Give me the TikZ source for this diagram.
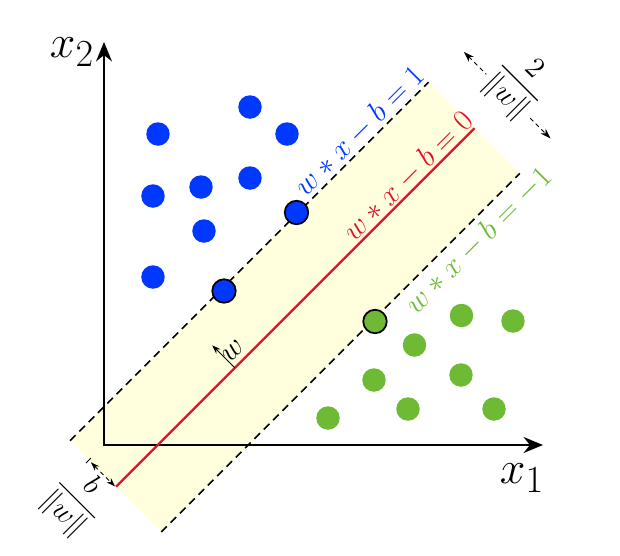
\documentclass[tikz,border=0pt]{standalone}
\usepackage{amsmath}
\usepackage{xcolor}
\usetikzlibrary{arrows.meta}
\usetikzlibrary{calc}

\definecolor{svmblue}{RGB}{0,56,255}
\definecolor{svmred}{RGB}{228,16,42}
\definecolor{svmgreen}{RGB}{110,186,52}
\definecolor{bandyellow}{RGB}{255,255,221}

\tikzset{
	axis/.style={line width=1.5pt, line join=miter},
	margin line/.style={line width=0.9pt, dash pattern=on 4.5pt off 3pt},
	hyperplane/.style={svmred, line width=1.3pt},
	dist arrow/.style={line width=0.5pt, dash pattern=on 2.5pt off 2pt},
	bluedot/.style={circle, fill=svmblue, inner sep=0pt, minimum size=0.47cm},
	greendot/.style={circle, fill=svmgreen, inner sep=0pt, minimum size=0.47cm},
	bluesv/.style={bluedot, draw=black, line width=1pt},
	greensv/.style={greendot, draw=black, line width=1pt},
	linelabel/.style={rotate=45, font=\LARGE},
	fraclabel/.style={rotate=-45, font=\Large, scale=1.15}
}

\begin{document}
\begin{tikzpicture}[scale=1.0, every node/.style={scale=1.0}]
			\useasboundingbox (-2.08,-2.2) rectangle (10.32,8.9);
			
			% margin band, rotated along the hyperplane
			\begin{scope}[rotate=45]
				\coordinate (tl) at (-0.42,0.54);
				\coordinate (tr) at (9.72,0.54);
				\coordinate (ml) at (-0.42,-0.76);
				\coordinate (mr) at (9.72,-0.76);
				\coordinate (bl) at (-0.42,-2.04);
				\coordinate (br) at (9.72,-2.04);
				\coordinate (ma) at (10.65,0.47);
				\coordinate (mb) at (10.65,-1.98);
				\coordinate (ba) at (-0.43,-0.06);
				\coordinate (bb) at (-0.43,-0.74);
				\coordinate (tka) at (-0.51,0.0);
				\coordinate (tkb) at (-0.37,0.0);
				\coordinate (wa) at (2.94,-0.76);
				\coordinate (wb) at (2.94,-0.12);
				\coordinate (lblone) at (8.05,0.83);
				\coordinate (lblzero) at (8.10,-0.50);
				\coordinate (lblminus) at (8.19,-2.40);
				\coordinate (lblw) at (3.16,-0.49);
				\coordinate (lbltwo) at (10.97,-0.76);
				\coordinate (lblb) at (-1.18,-0.40);
			\end{scope}
			\fill[bandyellow] (tl) -- (tr) -- (br) -- (bl) -- cycle;
			
			% axes
			\coordinate (O) at (0,0);
			\coordinate (xend) at (8.78,0);
			\coordinate (yend) at (0,8.06);
			\draw[axis, {Stealth[length=11pt,width=9pt]}-{Stealth[length=11pt,width=9pt]}] (xend) -- (O) -- (yend);
			\node[font=\Huge, scale=1.05] (xonelbl) at (8.36,-0.66) {$x_1$};
			\node[font=\Huge, scale=1.05] (xtwolbl) at (-0.64,7.85) {$x_2$};
			
			% hyperplane and margins
			\draw[margin line] (tl) -- (tr);
			\draw[margin line] (bl) -- (br);
			\draw[hyperplane] (ml) -- (mr);
			
			\node[linelabel, svmblue] (planeone) at (lblone) {$w*x-b=1$};
			\node[linelabel, svmred] (planezero) at (lblzero) {$w*x-b=0$};
			\node[linelabel, svmgreen] (planeminus) at (lblminus) {$w*x-b=-1$};
			
			% normal vector
			\draw[line width=0.5pt, -{Stealth[length=5pt,width=3.5pt]}] (wa) -- (wb);
			\node[rotate=45, font=\LARGE] (wlbl) at (lblw) {$w$};
			
			% distances
			\draw[dist arrow, {Stealth[length=6pt,width=4pt]}-{Stealth[length=6pt,width=4pt]}] (ma) -- (mb);
			\node[fraclabel, fill=white, inner sep=1pt] (twolbl) at (lbltwo) {$\dfrac{2}{\|w\|}$};
			\draw[line width=0.5pt] (tka) -- (tkb);
			\draw[dist arrow, {Stealth[length=5pt,width=3.5pt]}-{Stealth[length=5pt,width=3.5pt]}] (ba) -- (bb);
			\node[fraclabel] (blbl) at (lblb) {$\dfrac{b}{\|w\|}$};
			
			% samples
			\foreach \p [count=\i] in {(1.08,6.22),(2.92,6.76),(3.66,6.22),(0.98,4.98),(1.94,5.16),(2.92,5.34),(2.00,4.28),(0.98,3.36)}
				\node[bluedot] (blue\i) at \p {};
			\foreach \p [count=\i] in {(7.15,2.59),(8.18,2.48),(6.21,2.00),(5.40,1.30),(7.14,1.40),(4.48,0.54),(6.08,0.72),(7.80,0.72)}
				\node[greendot] (green\i) at \p {};
			\node[bluesv] (bluesvone) at (3.85,4.65) {};
			\node[bluesv] (bluesvtwo) at (2.40,3.08) {};
			\node[greensv] (greensvone) at (5.42,2.47) {};
		\end{tikzpicture}
\end{document}
